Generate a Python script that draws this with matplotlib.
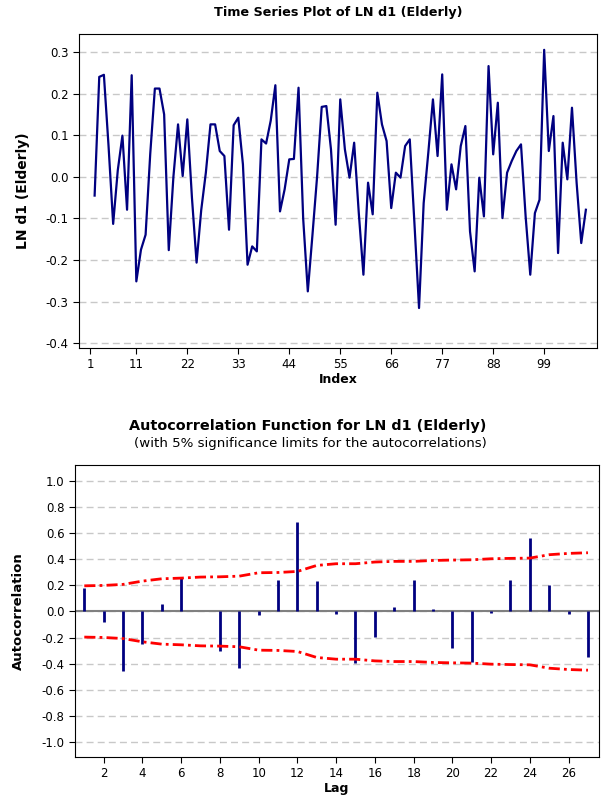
import numpy as np
import matplotlib
matplotlib.use("Agg")
import matplotlib.pyplot as plt

plt.rcParams['font.family'] = ['DejaVu Sans']
plt.rcParams['axes.unicode_minus'] = False

# LN d1 (Elderly): first value is missing (differenced), so it starts at index 2
index = list(range(2, 109))
ln_d1 = [-0.045, 0.240, 0.245, 0.075, -0.113, 0.016, 0.099, -0.079, 0.244, -0.251,
         -0.175, -0.139, 0.055, 0.212, 0.212, 0.150, -0.176, 0.000, 0.126, 0.002,
         0.138, -0.050, -0.206, -0.080, 0.010, 0.126, 0.126, 0.062, 0.050, -0.127,
         0.124, 0.142, 0.030, -0.211, -0.167, -0.179, 0.090, 0.080, 0.135, 0.220,
         -0.083, -0.030, 0.042, 0.043, 0.214, -0.100, -0.275, -0.140, 0.000, 0.168,
         0.170, 0.066, -0.115, 0.186, 0.066, -0.002, 0.082, -0.087, -0.235, -0.014,
         -0.090, 0.202, 0.126, 0.086, -0.075, 0.010, -0.002, 0.074, 0.090, -0.110,
         -0.315, -0.063, 0.058, 0.186, 0.050, 0.246, -0.079, 0.030, -0.030, 0.074,
         0.122, -0.131, -0.227, -0.002, -0.095, 0.266, 0.054, 0.178, -0.099, 0.010,
         0.038, 0.062, 0.078, -0.095, -0.235, -0.087, -0.055, 0.305, 0.062, 0.146,
         -0.183, 0.082, -0.006, 0.166, -0.014, -0.159, -0.079]
index_ticks = [1, 11, 22, 33, 44, 55, 66, 77, 88, 99]
ts_yticks = [-0.4, -0.3, -0.2, -0.1, 0.0, 0.1, 0.2, 0.3]

lags = list(range(1, 28))
acf = [0.179, -0.079, -0.457, -0.247, 0.054, 0.265, 0.005, -0.304, -0.431, -0.028,
       0.237, 0.681, 0.230, -0.020, -0.395, -0.196, 0.031, 0.237, 0.020, -0.281,
       -0.390, -0.015, 0.237, 0.564, 0.204, -0.020, -0.349]
# 5% significance limit (upper, lower is the negative)
limit = [0.196, 0.199, 0.207, 0.232, 0.250, 0.255, 0.263, 0.265, 0.270, 0.296,
         0.298, 0.306, 0.352, 0.365, 0.365, 0.378, 0.383, 0.383, 0.390, 0.393,
         0.395, 0.403, 0.406, 0.408, 0.434, 0.444, 0.449]
acf_yticks = [-1.0, -0.8, -0.6, -0.4, -0.2, 0.0, 0.2, 0.4, 0.6, 0.8, 1.0]

navy = '#000080'
grid_kw = dict(color='#c8c8c8', linestyle=(0, (5, 3)), linewidth=1.0)
dashdot = (0, (4, 1.5, 1, 1.5))

fig = plt.figure(figsize=(6.01, 8.01), dpi=100)

# ---- time series plot
ax1 = fig.add_axes([79/601, 1-348/801, (597-79)/601, (348-34)/801])
ax1.plot(index, ln_d1, color=navy, linewidth=1.6)
ax1.set_xlim(-1.37, 110.4)
ax1.set_ylim(-0.411, 0.343)
ax1.set_yticks(ts_yticks)
ax1.set_yticklabels(['%.1f' % v for v in ts_yticks])
ax1.set_xticks(index_ticks)
ax1.yaxis.grid(True, **grid_kw)
ax1.set_axisbelow(True)
ax1.tick_params(labelsize=8.5, length=4)
ax1.set_title('Time Series Plot of LN d1 (Elderly)', fontsize=9.2, fontweight='bold', pad=13)
ax1.set_xlabel('Index', fontsize=9, fontweight='bold', labelpad=1)
ax1.set_ylabel('LN d1 (Elderly)', fontsize=10, fontweight='bold', labelpad=11)

# ---- ACF plot
ax2 = fig.add_axes([75/601, 1-757/801, (599-75)/601, (757-465)/801])
ax2.axhline(0, color='#808080', linewidth=1.5, zorder=2)
ax2.vlines(lags, 0, acf, color=navy, linewidth=2, zorder=3)
ax2.plot(lags, limit, color='red', linewidth=2, linestyle=dashdot, zorder=4)
ax2.plot(lags, [-v for v in limit], color='red', linewidth=2, linestyle=dashdot, zorder=4)
ax2.set_xlim(0.52, 27.57)
ax2.set_ylim(-1.113, 1.12)
ax2.set_yticks(acf_yticks)
ax2.set_yticklabels(['%.1f' % v for v in acf_yticks])
ax2.set_xticks(range(2, 27, 2))
ax2.yaxis.grid(True, **grid_kw)
ax2.set_axisbelow(True)
ax2.tick_params(labelsize=8.5, length=4)
ax2.set_xlabel('Lag', fontsize=9, fontweight='bold', labelpad=1)
ax2.set_ylabel('Autocorrelation', fontsize=9.5, fontweight='bold', labelpad=12)
fig.text(308/601, 1-426/801, 'Autocorrelation Function for LN d1 (Elderly)',
         ha='center', va='center', fontsize=10.4, fontweight='bold')
fig.text(310/601, 1-444/801, '(with 5% significance limits for the autocorrelations)',
         ha='center', va='center', fontsize=9.6)

fig.savefig('out.png', dpi=100)
